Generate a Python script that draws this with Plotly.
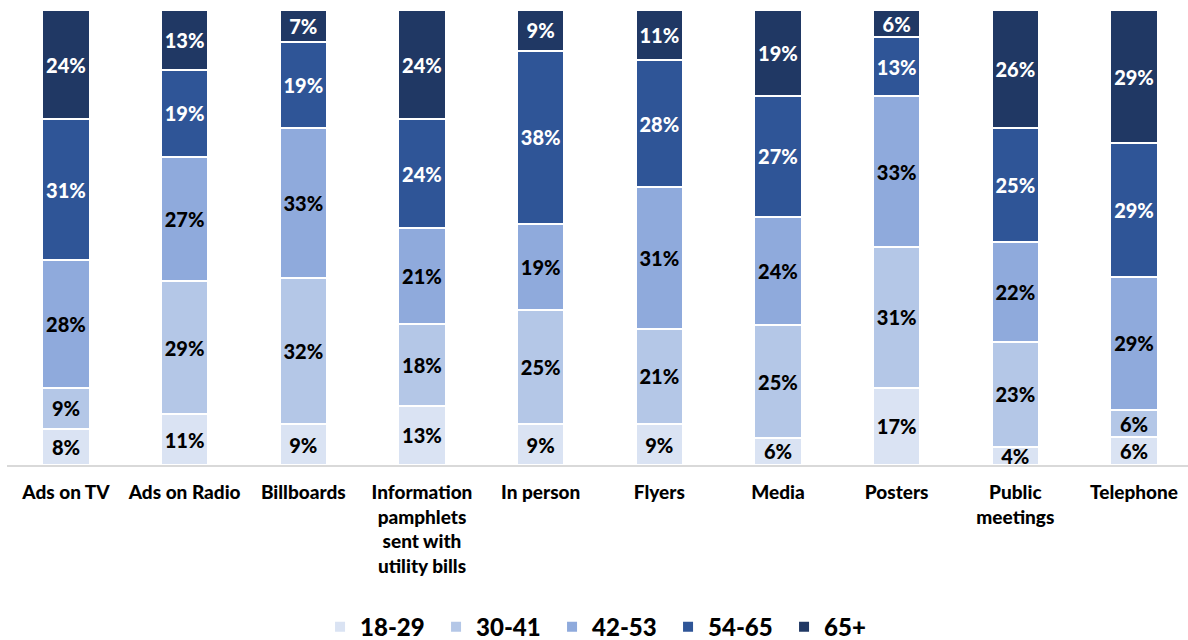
import plotly.graph_objects as go

categories = ["Ads on TV", "Ads on Radio", "Billboards",
              "Information<br>pamphlets<br>sent with<br>utility bills",
              "In person", "Flyers", "Media", "Posters",
              "Public<br>meetings", "Telephone"]

age_groups = ["18-29", "30-41", "42-53", "54-65", "65+"]

share_18_29 = [8, 11, 9, 13, 9, 9, 6, 17, 4, 6]
share_30_41 = [9, 29, 32, 18, 25, 21, 25, 31, 23, 6]
share_42_53 = [28, 27, 33, 21, 19, 31, 24, 33, 22, 29]
share_54_65 = [31, 19, 19, 24, 38, 28, 27, 13, 25, 29]
share_65_plus = [24, 13, 7, 24, 9, 11, 19, 6, 26, 29]

series = [share_18_29, share_30_41, share_42_53, share_54_65, share_65_plus]
colors = ["#DAE3F3", "#B4C7E7", "#8FAADC", "#2F5597", "#203864"]
label_colors = ["#000000", "#000000", "#000000", "#FFFFFF", "#FFFFFF"]

FONT = "Lato"
x_pos = list(range(len(categories)))

fig = go.Figure()
for name, vals, col, tcol in zip(age_groups, series, colors, label_colors):
    fig.add_trace(go.Bar(
        x=x_pos, y=vals, name=name,
        marker=dict(color=col, line=dict(color="white", width=2)),
        width=0.40,
        text=[f"{v}%" for v in vals],
        textposition="inside",
        insidetextanchor="middle",
        constraintext="none",
        textangle=0,
        textfont=dict(family=FONT, size=20, color=tcol, weight=900),
        hoverinfo="skip",
    ))

fig.update_layout(
    barmode="stack",
    barnorm="percent",
    width=1188, height=640,
    margin=dict(l=7, r=0, t=10, b=175),
    plot_bgcolor="white", paper_bgcolor="white",
    uniformtext=dict(mode=False),
    showlegend=True,
    legend=dict(orientation="h", xref="container", yref="container",
                x=0.2694, xanchor="left", y=0.02, yanchor="middle",
                font=dict(family=FONT, size=24, color="#000000", weight=900),
                itemwidth=30, entrywidth=71, entrywidthmode="pixels",
                traceorder="normal", tracegroupgap=0),
    font=dict(family=FONT),
)

fig.update_xaxes(
    range=[-0.497, 9.455],
    tickvals=x_pos, ticktext=categories,
    showgrid=False, zeroline=False,
    showline=True, linecolor="#D9D9D9", linewidth=2,
    ticks="", ticklabelstandoff=9,
    automargin=False,
    tickfont=dict(family=FONT, size=19, color="#000000", weight=900),
)
fig.update_yaxes(range=[0, 100], visible=False, showgrid=False, zeroline=False,
                 automargin=False)

fig.write_html("out.html")
